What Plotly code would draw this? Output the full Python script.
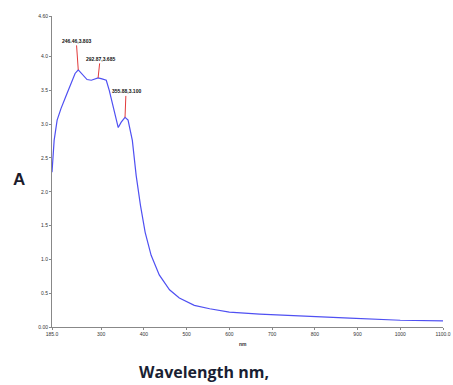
import plotly.graph_objects as go

# UV-Vis absorption spectrum (wavelength in nm, absorbance A)
wavelength = [185, 190, 197, 206, 218, 230, 239, 246.46, 255, 267, 277, 292.87,
              302, 312, 319, 326, 333, 340, 347, 355.88, 363, 373, 382, 392,
              403, 417, 436, 460, 483, 518, 554, 600, 671, 765, 882, 1000, 1100]
absorbance = [2.29, 2.76, 3.06, 3.23, 3.42, 3.62, 3.75, 3.803, 3.75, 3.66, 3.65, 3.685,
              3.67, 3.65, 3.50, 3.31, 3.13, 2.95, 3.03, 3.100, 3.06, 2.76, 2.24, 1.80,
              1.40, 1.06, 0.77, 0.55, 0.43, 0.32, 0.27, 0.22, 0.19, 0.16, 0.13, 0.10, 0.09]

# Labelled peaks
peak_x = [246.46, 292.87, 355.88]
peak_y = [3.803, 3.685, 3.100]
peak_offsets = [(-2, -29), (2, -19), (1, -26)]

x_tickvals = [185, 300, 400, 500, 600, 700, 800, 900, 1000, 1100]
x_ticktext = ["185.0", "300", "400", "500", "600", "700", "800", "900", "1000", "1100.0"]
y_tickvals = [0, 0.5, 1.0, 1.5, 2.0, 2.5, 3.0, 3.5, 4.0, 4.6]
y_ticktext = ["0.00", "0.5", "1.0", "1.5", "2.0", "2.5", "3.0", "3.5", "4.0", "4.60"]

fig = go.Figure()
fig.add_trace(go.Scatter(x=wavelength, y=absorbance, mode="lines",
                         line=dict(color="#4f50f2", width=1.2), hoverinfo="skip"))

for px, py, (ax, ay) in zip(peak_x, peak_y, peak_offsets):
    fig.add_annotation(x=px, y=py, text=f"<b>{px:.2f},{py:.3f}</b>",
                       showarrow=True, arrowhead=0, arrowwidth=1, arrowcolor="#e23a3a",
                       ax=ax, ay=ay, font=dict(size=5, color="#111", family="Liberation Sans"))

axis_common = dict(showline=True, linecolor="#888", linewidth=1, ticks="outside",
                   ticklen=2, tickcolor="#888", showgrid=False, zeroline=False,
                   automargin=False,
                   tickfont=dict(size=5, color="#333", family="Liberation Sans"))

fig.update_xaxes(range=[185, 1100], tickvals=x_tickvals, ticktext=x_ticktext, **axis_common)
fig.update_yaxes(range=[0, 4.6], tickvals=y_tickvals, ticktext=y_ticktext, **axis_common)

fig.add_annotation(xref="paper", yref="paper", x=0.488, y=-0.07, text="<b>nm</b>",
                   showarrow=False, font=dict(size=5, color="#333", family="Liberation Sans"))
fig.add_annotation(xref="paper", yref="paper", x=-0.085, y=0.475, text="<b>A</b>",
                   showarrow=False, xanchor="center",
                   font=dict(size=17, color="#1c1c2c", family="Liberation Sans"))
fig.add_annotation(xref="paper", yref="paper", x=0.39, y=-0.145, text="<b>Wavelength nm,</b>",
                   showarrow=False, xanchor="center", yanchor="middle",
                   font=dict(size=16, color="#1a1f33", family="Open Sans"))

fig.update_layout(width=453, height=385, margin=dict(l=52, r=10, t=16, b=58),
                  paper_bgcolor="white", plot_bgcolor="white", showlegend=False)

fig.write_html("out.html")
